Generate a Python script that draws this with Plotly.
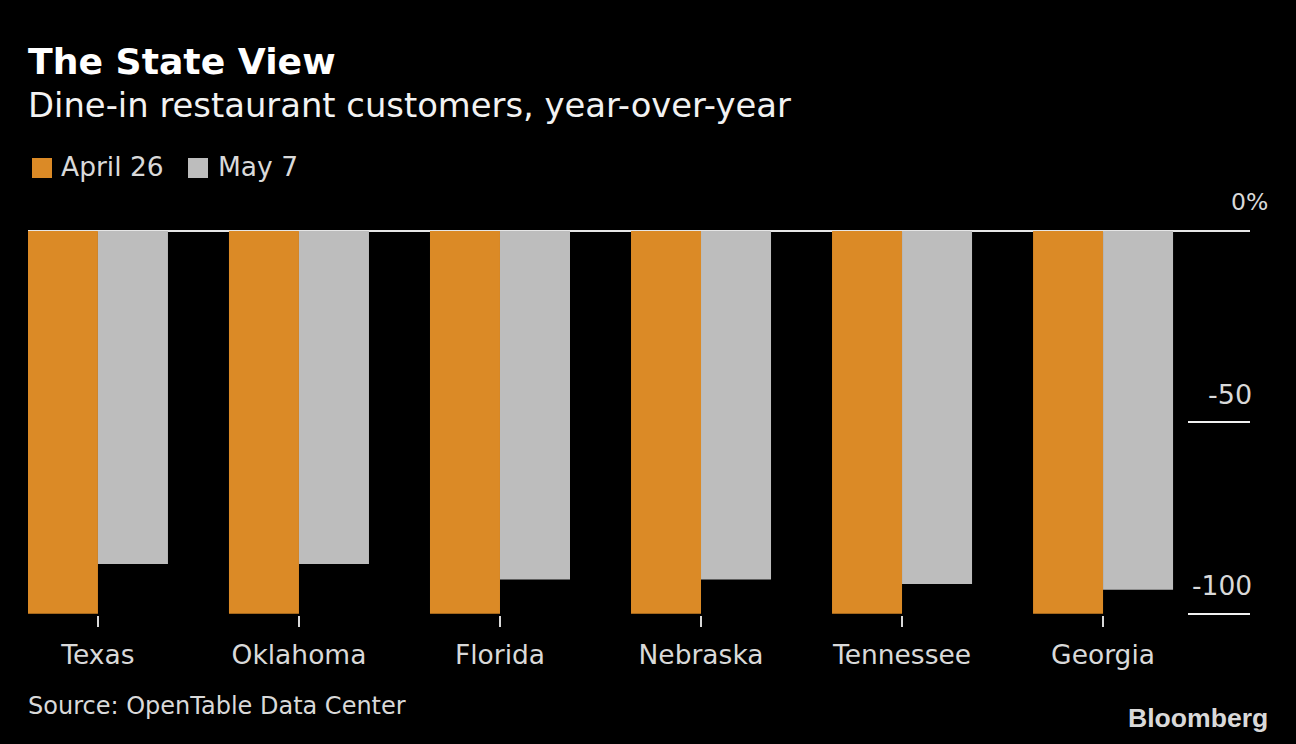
import plotly.graph_objects as go

# values
states = ["Texas", "Oklahoma", "Florida", "Nebraska", "Tennessee", "Georgia"]
april_26 = [-100, -100, -100, -100, -100, -100]
may_7 = [-87, -87, -91, -91, -92.2, -93.7]
y_ticks = [0, -50, -100]
y_labels = ["0%", "-50", "-100"]

ORANGE = "#db8a26"
GREY = "#bdbdbd"
TEXT = "#d9d9d9"
FONT = "DejaVu Sans"

W, H = 1296, 744
L, R, T, B = 28, 46, 231, 129


# pixel position in the page -> paper coordinates
def px(x):
    return (x - L) / (W - L - R)


def py(y):
    return (H - B - y) / (H - T - B)


fig = go.Figure()
fig.add_trace(go.Bar(x=states, y=april_26, name="April 26", marker_color=ORANGE, marker_line_width=0))
fig.add_trace(go.Bar(x=states, y=may_7, name="May 7", marker_color=GREY, marker_line_width=0))


def text(x, y, s, size, color=TEXT, anchor="left", family=FONT):
    fig.add_annotation(xref="paper", yref="paper", x=px(x), y=py(y), text=s, showarrow=False,
                       xanchor=anchor, yanchor="middle", align=anchor,
                       font=dict(family=family, size=size, color=color),
                       borderpad=0, borderwidth=0)


text(28, 62, "<b>The State View</b>", 36.2, "#ffffff")
text(28, 105, "Dine-in restaurant customers, year-over-year", 33.8, "#f2f2f2")

# legend
for x0, color in [(32, ORANGE), (188, GREY)]:
    fig.add_shape(type="rect", xref="paper", yref="paper", x0=px(x0), x1=px(x0 + 20), y0=py(158), y1=py(178),
                  fillcolor=color, line_width=0)
text(61, 167, "April 26", 26.5)
text(218, 167, "May 7", 26.5)

# y labels sit above their tick lines
text(1268, 202, y_labels[0], 23.5, anchor="right")
text(1252, 394, y_labels[1], 27, anchor="right")
text(1252, 585, y_labels[2], 26.5, anchor="right")

text(28, 706, "Source: OpenTable Data Center", 24)
text(1268, 718, "<b>Bloomberg</b>", 26.6, "#d9d9d9", "right", "Liberation Sans")

fig.update_layout(
    width=W, height=H,
    margin=dict(l=L, r=R, t=T, b=B, autoexpand=False),
    paper_bgcolor="#000000", plot_bgcolor="#000000",
    barmode="group", bargap=0.3035, bargroupgap=0,
    showlegend=False,
    font=dict(family=FONT, color=TEXT),
    xaxis=dict(range=[-0.348, 5.731], showgrid=False, zeroline=False, showline=False,
               ticks="outside", ticklen=11, tickwidth=1.5, tickcolor=TEXT,
               ticklabelstandoff=5,
               tickfont=dict(size=26.5, color=TEXT)),
    # overshoot so the -100 tick is not dropped at the axis edge
    yaxis=dict(range=[-100.3, 0], side="right", tickvals=y_ticks, showticklabels=False,
               ticks="inside", ticklen=62, tickwidth=1.5, tickcolor="#f0f0f0",
               showgrid=False, showline=False,
               zeroline=True, zerolinecolor="#e6e6e6", zerolinewidth=2),
)

fig.write_html("out.html", config=dict(displayModeBar=False), post_script="document.body.style.margin='0';")
